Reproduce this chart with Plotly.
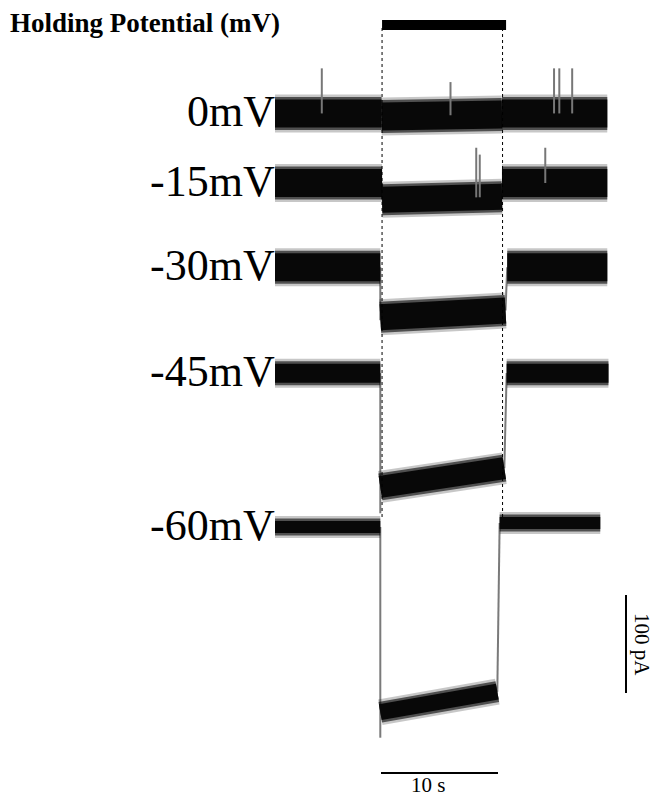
import plotly.graph_objects as go

# ---------------- data ----------------
holding = ["0mV", "-15mV", "-30mV", "-45mV", "-60mV"]
offset_pA = [422, 351, 265, 157, 0]          # vertical display offset of each trace
pre_level = [0, 0, 0, 0, 0]                  # current before application (pA, relative)
post_level = [0, 0, 0, 0, 4]                 # current after washout (pA, relative)
onset_resp = [-3, -17, -51, -116, -189]      # current just after the step (pA)
end_resp = [-1, -14, -44, -97, -168]         # current at the end of application (pA)
overshoot = [-3, -17, -54, -143, -215]       # transient at the step (pA)
step_on = [9.1, 9.15, 9.0, 9.0, 9.0]         # s
step_off = [19.4, 19.4, 19.7, 19.6, 19.0]    # s
post_start = [19.4, 19.4, 19.85, 19.8, 19.2] # s
record_end = [28.4, 28.4, 28.4, 28.5, 27.8]  # s

# occasional spikes: trace index, time (s), peak (pA, relative to offset)
spike_trace = [0, 0, 0, 0, 0, 1, 1, 1]
spike_t = [4.0, 15.0, 23.85, 24.3, 25.4, 17.2, 17.5, 23.1]
spike_peak = [46, 32, 46, 46, 46, 36, 29, 36]

drug_bar = [9.15, 19.75]      # application bar (s)
drug_lines = [9.15, 19.45]    # dotted guide lines (s)
scale_time = 10               # s
scale_current = 100           # pA

# ---------------- layout constants ----------------
W, H = 656, 797
PX_PER_S = 11.7
PX_PER_PA = 0.98
X0_PX = 275      # pixel of t = 0
Y0_PX = 527      # pixel of 0 pA display level
x_range = [-X0_PX / PX_PER_S, (W - X0_PX) / PX_PER_S]
y_range = [(Y0_PX - H) / PX_PER_PA, Y0_PX / PX_PER_PA]

def t_px(px):
    return (px - X0_PX) / PX_PER_S

def pa_px(py):
    return (Y0_PX - py) / PX_PER_PA

band_base = [28, 28, 28, 19, 12]
band_resp = [28, 26, 26, 22, 16]

fig = go.Figure()

for i, name in enumerate(holding):
    off = offset_pA[i]
    seg_pre_x = [0, step_on[i]]
    seg_pre_y = [off + pre_level[i]] * 2
    seg_resp_x = [step_on[i], step_off[i]]
    seg_resp_y = [off + onset_resp[i], off + end_resp[i]]
    seg_post_x = [post_start[i], record_end[i]]
    seg_post_y = [off + post_level[i]] * 2
    # step transitions (thin grey)
    fig.add_trace(go.Scatter(
        x=[step_on[i], step_on[i], None, step_off[i], post_start[i]],
        y=[off + pre_level[i], off + overshoot[i], None, off + end_resp[i], off + post_level[i]],
        mode="lines", line=dict(color="#7a7a7a", width=2), hoverinfo="skip", showlegend=False))
    for xs, ys, w in [(seg_pre_x, seg_pre_y, band_base[i]),
                      (seg_resp_x, seg_resp_y, band_resp[i]),
                      (seg_post_x, seg_post_y, band_base[i])]:
        for extra, col in [(10, "rgba(0,0,0,0.22)"), (5, "rgba(0,0,0,0.6)"), (0, "#080808")]:
            fig.add_trace(go.Scatter(x=xs, y=ys, mode="lines",
                                     line=dict(color=col, width=w + extra),
                                     hoverinfo="skip", showlegend=False))
    fig.add_annotation(x=t_px(277), y=off, xref="x", yref="y", text=name,
                       showarrow=False, xanchor="right", yanchor="middle", yshift=2,
                       font=dict(family="Liberation Serif", size=44, color="black"))

# spikes
for k in range(len(spike_t)):
    i = spike_trace[k]
    t = spike_t[k]
    off = offset_pA[i]
    if step_on[i] <= t <= step_off[i]:
        frac = (t - step_on[i]) / (step_off[i] - step_on[i])
        base = onset_resp[i] + frac * (end_resp[i] - onset_resp[i])
    elif t < step_on[i]:
        base = pre_level[i]
    else:
        base = post_level[i]
    fig.add_trace(go.Scatter(x=[t, t], y=[off + base, off + spike_peak[k]], mode="lines",
                             line=dict(color="#777777", width=2),
                             hoverinfo="skip", showlegend=False))

# application bar and dotted guides
bar_y = pa_px(25)
fig.add_trace(go.Scatter(x=drug_bar, y=[bar_y, bar_y], mode="lines",
                         line=dict(color="black", width=10), hoverinfo="skip", showlegend=False))
for t in drug_lines:
    fig.add_trace(go.Scatter(x=[t, t], y=[pa_px(28), pa_px(520)], mode="lines",
                             line=dict(color="black", width=1, dash="dot"),
                             hoverinfo="skip", showlegend=False))

# scale bars
sb_t0 = t_px(381)
sb_y = pa_px(773)
fig.add_trace(go.Scatter(x=[sb_t0, sb_t0 + scale_time], y=[sb_y, sb_y], mode="lines",
                         line=dict(color="black", width=2), hoverinfo="skip", showlegend=False))
sv_t = t_px(626)
sv_y0 = pa_px(693)
fig.add_trace(go.Scatter(x=[sv_t, sv_t], y=[sv_y0, sv_y0 + scale_current], mode="lines",
                         line=dict(color="black", width=2), hoverinfo="skip", showlegend=False))

fig.add_annotation(x=t_px(428), y=pa_px(785), text=f"{scale_time} s", showarrow=False,
                   xanchor="center", yanchor="middle",
                   font=dict(family="Liberation Serif", size=21, color="black"))
fig.add_annotation(x=t_px(642), y=sv_y0 + scale_current / 2, text=f"{scale_current} pA",
                   showarrow=False, textangle=90, xanchor="center", yanchor="middle",
                   font=dict(family="Liberation Serif", size=21, color="black"))

fig.add_annotation(x=8 / W, y=1 - 23 / H, xref="paper", yref="paper",
                   text="<b>Holding Potential (mV)</b>", showarrow=False,
                   xanchor="left", yanchor="middle",
                   font=dict(family="Liberation Serif", size=27, color="black"))

fig.update_layout(width=W, height=H, autosize=False,
                  margin=dict(l=0, r=0, t=0, b=0),
                  paper_bgcolor="white", plot_bgcolor="white",
                  xaxis=dict(visible=False, range=x_range, fixedrange=True),
                  yaxis=dict(visible=False, range=y_range, fixedrange=True),
                  showlegend=False)

fig.write_html("out.html", config={"displayModeBar": False},
               post_script="document.body.style.margin='0px';document.body.style.overflow='hidden';")
